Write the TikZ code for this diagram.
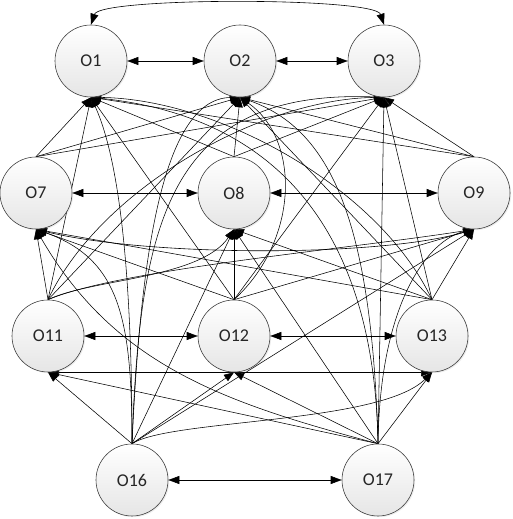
\documentclass[tikz,border=0pt]{standalone}
\usepackage{fontspec}
\setmainfont{Carlito}
\usetikzlibrary{arrows.meta,shadows,backgrounds}
\begin{document}
\begin{tikzpicture}[x=1pt,y=1pt,
  obj/.style={circle,draw=black!75,line width=0.6pt,minimum size=72pt,inner sep=0pt,
    top color=white,bottom color=black!10,text=black!85,
    font=\fontsize{18}{20}\selectfont,
    drop shadow={opacity=0.15,shadow xshift=1.2pt,shadow yshift=-1.2pt}},
  link/.style={line width=0.55pt,-{Triangle[length=10pt,width=7.5pt]}},
  dbl/.style={line width=0.6pt,{Triangle[length=11pt,width=8pt]}-{Triangle[length=11pt,width=8pt]}}]
\useasboundingbox (0,0) rectangle (512,519);
\node[obj] (O1) at (91,458) {O1};
\node[obj] (O2) at (240,458) {O2};
\node[obj] (O3) at (384,458) {O3};
\node[obj] (O7) at (36,326) {O7};
\node[obj] (O8) at (234,326) {O8};
\node[obj] (O9) at (474,326) {O9};
\node[obj] (O11) at (48,183) {O11};
\node[obj] (O12) at (234,183) {O12};
\node[obj] (O13) at (432,183) {O13};
\node[obj] (O16) at (132,39) {O16};
\node[obj] (O17) at (378,39) {O17};
\begin{scope}[on background layer]
% same level
\draw[dbl] (O1.north) .. controls (100,522) and (375,522) .. (O3.north);
\draw[dbl] (O1) -- (O2);
\draw[dbl] (O2) -- (O3);
\draw[dbl] (O7) -- (O8);
\draw[dbl] (O8) -- (O9);
\draw[dbl] (O7.south) .. controls (150,262) and (380,262) .. (O9.south);
\draw[dbl] (O11) -- (O12);
\draw[dbl] (O12) -- (O13);
\draw[dbl] (O11.south) -- (O13.south);
\draw[dbl] (O16) -- (O17);
% level 2 -> level 1
\draw[link] (O7.north) -- (O1.south);
\draw[link] (O7.north) -- (O2.south);
\draw[link] (O7.north) -- (O3.south);
\draw[link] (O8.north) -- (O1.south);
\draw[link] (O8.north) -- (O2.south);
\draw[link] (O8.north) -- (O3.south);
\draw[link] (O9.north) -- (O1.south);
\draw[link] (O9.north) -- (O2.south);
\draw[link] (O9.north) -- (O3.south);
% level 3 -> level 2
\draw[link] (O11.north) -- (O7.south);
\draw[link] (O11.north) .. controls (90,240) and (200,240) .. (O8.south);
\draw[link] (O11.north) .. controls (120,250) and (350,270) .. (O9.south);
\draw[link] (O12.north) -- (O7.south);
\draw[link] (O12.north) -- (O8.south);
\draw[link] (O12.north) -- (O9.south);
\draw[link] (O13.north) -- (O7.south);
\draw[link] (O13.north) -- (O8.south);
\draw[link] (O13.north) -- (O9.south);
% level 3 -> level 1
\draw[link] (O11.north) -- (O1.south);
\draw[link] (O11.north) -- (O2.south);
\draw[link] (O11.north) .. controls (100,330) and (260,420) .. (O3.south);
\draw[link] (O12.north) -- (O1.south);
\draw[link] (O12.north) .. controls (300,280) and (300,380) .. (O2.south);
\draw[link] (O12.north) -- (O3.south);
\draw[link] (O13.north) .. controls (380,330) and (220,420) .. (O1.south);
\draw[link] (O13.north) -- (O2.south);
\draw[link] (O13.north) -- (O3.south);
% level 4
\draw[link] (O16.north) -- (O11.south);
\draw[link] (O16.north) -- (O12.south);
\draw[link] (O16.north) .. controls (170,100) and (380,95) .. (O13.south);
\draw[link] (O16.north) .. controls (132,200) and (120,260) .. (O7.south);
\draw[link] (O16.north) -- (O8.south);
\draw[link] (O16.north) -- (O9.south);
\draw[link] (O16.north) .. controls (132,300) and (110,380) .. (O1.south);
\draw[link] (O16.north) .. controls (140,250) and (160,420) .. (O2.south);
\draw[link] (O16.north) .. controls (140,300) and (170,430) .. (O3.south);
\draw[link] (O17.north) -- (O11.south);
\draw[link] (O17.north) -- (O12.south);
\draw[link] (O17.north) -- (O13.south);
\draw[link] (O17.north) .. controls (225,116) and (115,153) .. (O7.south);
\draw[link] (O17.north) -- (O8.south);
\draw[link] (O17.north) .. controls (380,220) and (430,280) .. (O9.south);
\draw[link] (O17.north) .. controls (375,260) and (300,400) .. (O1.south);
\draw[link] (O17.north) .. controls (372,300) and (330,390) .. (O2.south);
\draw[link] (O17.north) -- (O3.south);
\end{scope}
\end{tikzpicture}
\end{document}
